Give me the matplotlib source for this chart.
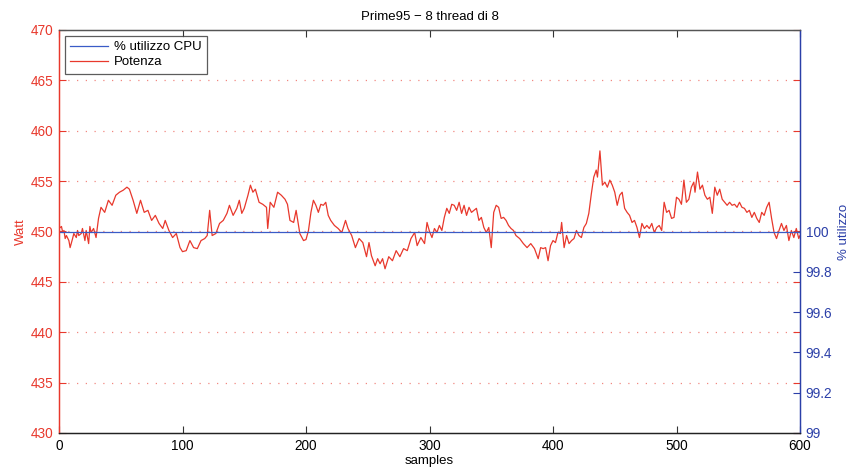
import matplotlib
matplotlib.use("Agg")
import matplotlib.pyplot as plt

plt.rcParams['font.family'] = ['Liberation Sans', 'DejaVu Sans']

# Power readings (W) taken at the listed sample indices
samples = [0, 2, 3, 4, 5, 6, 8, 9, 11, 12, 14, 15, 16, 18, 19, 21, 22, 24, 25, 26, 28, 30,
           32, 34, 37, 40, 43, 46, 49, 52, 55, 57,
           60, 63, 66, 69, 72, 75, 78, 81, 84, 86, 89, 92, 95, 98, 100,
           103, 106, 109, 112, 115, 118, 120, 122, 124, 127, 130, 133, 136, 138, 141,
           144, 146, 148, 150, 153, 155, 157, 159, 162, 165, 168, 169, 171, 174, 177,
           180, 183, 185, 187, 190, 192, 195, 198, 200,
           202, 204, 206, 208, 210, 212, 214, 216, 218, 220, 223, 226, 229, 232, 234,
           237, 240, 243, 246, 249, 251, 253, 256, 258, 260, 262, 264, 267, 270, 273,
           276, 279, 282, 285, 288, 290, 293, 296, 298, 300,
           302, 304, 306, 308, 310, 312, 314, 316, 318, 320, 322, 324, 326, 328, 330,
           332, 334, 336, 338, 340, 342, 344, 346, 348, 350, 352, 354, 356, 358, 360,
           362, 364, 366, 368, 370, 373, 376, 379, 382, 385, 388, 390, 392, 394, 396,
           398, 400,
           402, 404, 406, 407, 409, 411, 413, 415, 417, 419, 421, 423, 425, 427, 429,
           431, 433, 435, 436, 438, 440, 442, 444, 446, 448, 450, 452, 454, 456, 458,
           460, 462, 464, 466, 468, 470, 472, 474, 476, 478, 480, 482, 484, 486, 488,
           490, 492, 494, 496, 498, 500, 502, 504,
           506, 508, 510, 512, 514, 515, 517, 519, 521, 523, 525, 527, 529, 531, 533,
           535, 537, 539, 541, 543, 545, 547, 549, 551, 553, 555, 557, 559, 561, 563,
           565, 567, 569, 571, 573, 575, 577, 579, 581, 583, 585, 587, 589, 591, 593,
           595, 597, 599, 600]

power = [450.3, 450.5, 449.9, 450.1, 449.3, 449.6, 449.1, 448.4, 449.3, 449.8, 449.4, 450.1, 449.6, 449.8, 450.3, 449.1, 450.1, 448.8, 450.5, 449.9, 450.3, 449.4,
         451.3, 452.4, 451.9, 453.1, 452.6, 453.6, 453.9, 454.1, 454.4, 454.2,
         453.1, 451.8, 453.1, 451.9, 452.1, 451.1, 451.6, 450.8, 450.3, 451.1, 450.1, 449.4, 449.8, 448.4, 448.0,
         448.1, 449.1, 448.4, 448.3, 449.1, 449.3, 449.6, 452.1, 449.6, 449.8, 450.8, 451.1, 451.8, 452.6, 451.6,
         452.3, 453.1, 451.8, 452.3, 453.6, 454.6, 453.9, 454.2, 452.9, 452.7, 452.4, 450.3, 452.9, 452.4, 453.9,
         453.6, 453.2, 452.7, 451.1, 450.9, 452.1, 449.8, 449.1, 449.2,
         450.1, 451.9, 453.1, 452.6, 451.9, 452.7, 452.6, 452.9, 451.6, 451.1, 450.6, 450.3, 449.9, 451.1, 450.3,
         449.6, 448.4, 449.3, 448.9, 447.5, 448.9, 447.6, 446.6, 447.3, 446.8, 447.3, 446.3, 447.5, 447.1, 448.1,
         447.5, 448.3, 448.1, 449.3, 449.9, 448.6, 449.4, 448.8, 450.9, 450.0,
         449.4, 450.3, 449.9, 450.6, 450.1, 451.4, 452.3, 451.8, 452.7, 452.6, 452.1, 452.9, 451.8, 452.6, 451.6,
         452.4, 451.9, 452.1, 452.3, 451.1, 451.4, 450.4, 449.9, 450.4, 448.4, 451.9, 452.6, 452.4, 451.3, 451.4,
         451.1, 450.6, 450.3, 450.1, 449.6, 449.3, 448.8, 448.4, 448.8, 448.3, 447.3, 448.4, 448.3, 448.4, 447.1,
         448.6, 449.1,
         448.9, 449.9, 449.8, 450.9, 448.4, 449.6, 448.8, 449.1, 449.3, 450.1, 449.6, 449.4, 450.4, 450.8, 451.8,
         453.7, 455.4, 456.1, 455.4, 458.0, 454.6, 454.9, 454.4, 455.1, 454.6, 453.9, 452.6, 453.6, 453.9, 452.3,
         451.9, 451.6, 450.9, 451.1, 450.4, 449.4, 450.8, 450.3, 450.6, 450.3, 450.8, 449.9, 450.4, 450.6, 450.1,
         452.9, 451.9, 452.1, 451.3, 451.4, 453.4, 453.2, 452.7,
         455.1, 452.9, 453.2, 454.4, 454.9, 453.9, 455.9, 454.2, 454.6, 453.6, 453.2, 453.4, 451.8, 454.4, 453.6,
         454.2, 453.2, 452.9, 452.6, 452.9, 452.6, 452.7, 452.4, 452.9, 452.4, 452.3, 451.9, 452.1, 451.4, 451.9,
         451.3, 450.9, 451.9, 451.6, 452.4, 452.9, 451.3, 449.9, 449.3, 450.1, 450.8, 450.1, 450.6, 449.1, 450.1,
         449.4, 450.3, 449.3, 449.6]

# CPU utilisation (%) over the same run
cpu_samples = [0, 600]
cpu_usage = [100, 100]

title = "Prime95 \u2212 8 thread di 8"
x_ticks = [0, 100, 200, 300, 400, 500, 600]
watt_ticks = [430, 435, 440, 445, 450, 455, 460, 465, 470]
cpu_ticks = [99, 99.2, 99.4, 99.6, 99.8, 100]
cpu_tick_labels = ["99", "99.2", "99.4", "99.6", "99.8", "100"]

RED = "#e8382c"
BLUE = "#2b3fa8"
LINE_BLUE = "#3a5bc7"

fig = plt.figure(figsize=(8.49, 4.72), dpi=100)
ax = fig.add_axes([59 / 849, 39 / 472, 741 / 849, 403 / 472])
ax2 = ax.twinx()

ax.plot(samples, power, color=RED, lw=0.9, label="Potenza")
ax2.plot(cpu_samples, cpu_usage, color=LINE_BLUE, lw=0.9, label="% utilizzo CPU")

ax.set_xlim(0, 600)
ax.set_ylim(430, 470)
ax2.set_ylim(99, 101)

ax.set_xticks(x_ticks)
ax.set_yticks(watt_ticks)
ax2.set_yticks(cpu_ticks)
ax2.set_yticklabels(cpu_tick_labels)

# dotted horizontal grid for the power axis
for v in watt_ticks[1:-1]:
    ax.axhline(v, color=RED, lw=0.9, ls=(0, (1, 6)), alpha=0.6, zorder=0)

ax.tick_params(axis='x', direction='in', length=5, top=True, labelsize=9.8,
               color='#333333', labelcolor='black', pad=4)
ax.tick_params(axis='y', direction='in', length=5, right=True, labelsize=9.8,
               colors=RED, pad=4)
ax2.tick_params(axis='y', direction='in', length=5, labelsize=9.8, colors=BLUE, pad=4)

for a in (ax, ax2):
    a.spines['left'].set_color(RED)
    a.spines['right'].set_color(BLUE)
    a.spines['top'].set_color('#555555')
    a.spines['bottom'].set_color('#222222')
    for s in a.spines.values():
        s.set_linewidth(0.9)

ax.set_xlabel("samples", fontsize=9.5, labelpad=2)
ax.set_ylabel("Watt", fontsize=9.5, color=RED, labelpad=3)
ax2.set_ylabel("% utilizzo", fontsize=9.5, color=BLUE, labelpad=4)
ax.set_title(title, fontsize=9.5, pad=7)

h1, l1 = ax2.get_legend_handles_labels()
h2, l2 = ax.get_legend_handles_labels()
leg = ax2.legend(h1 + h2, l1 + l2, loc='upper left', fontsize=9.5, frameon=True,
                 fancybox=False, edgecolor='#333333', borderpad=0.4,
                 handlelength=2.9, handletextpad=0.4, labelspacing=0.2,
                 borderaxespad=0.45)
leg.get_frame().set_linewidth(0.9)

fig.savefig("out.png", dpi=100)
